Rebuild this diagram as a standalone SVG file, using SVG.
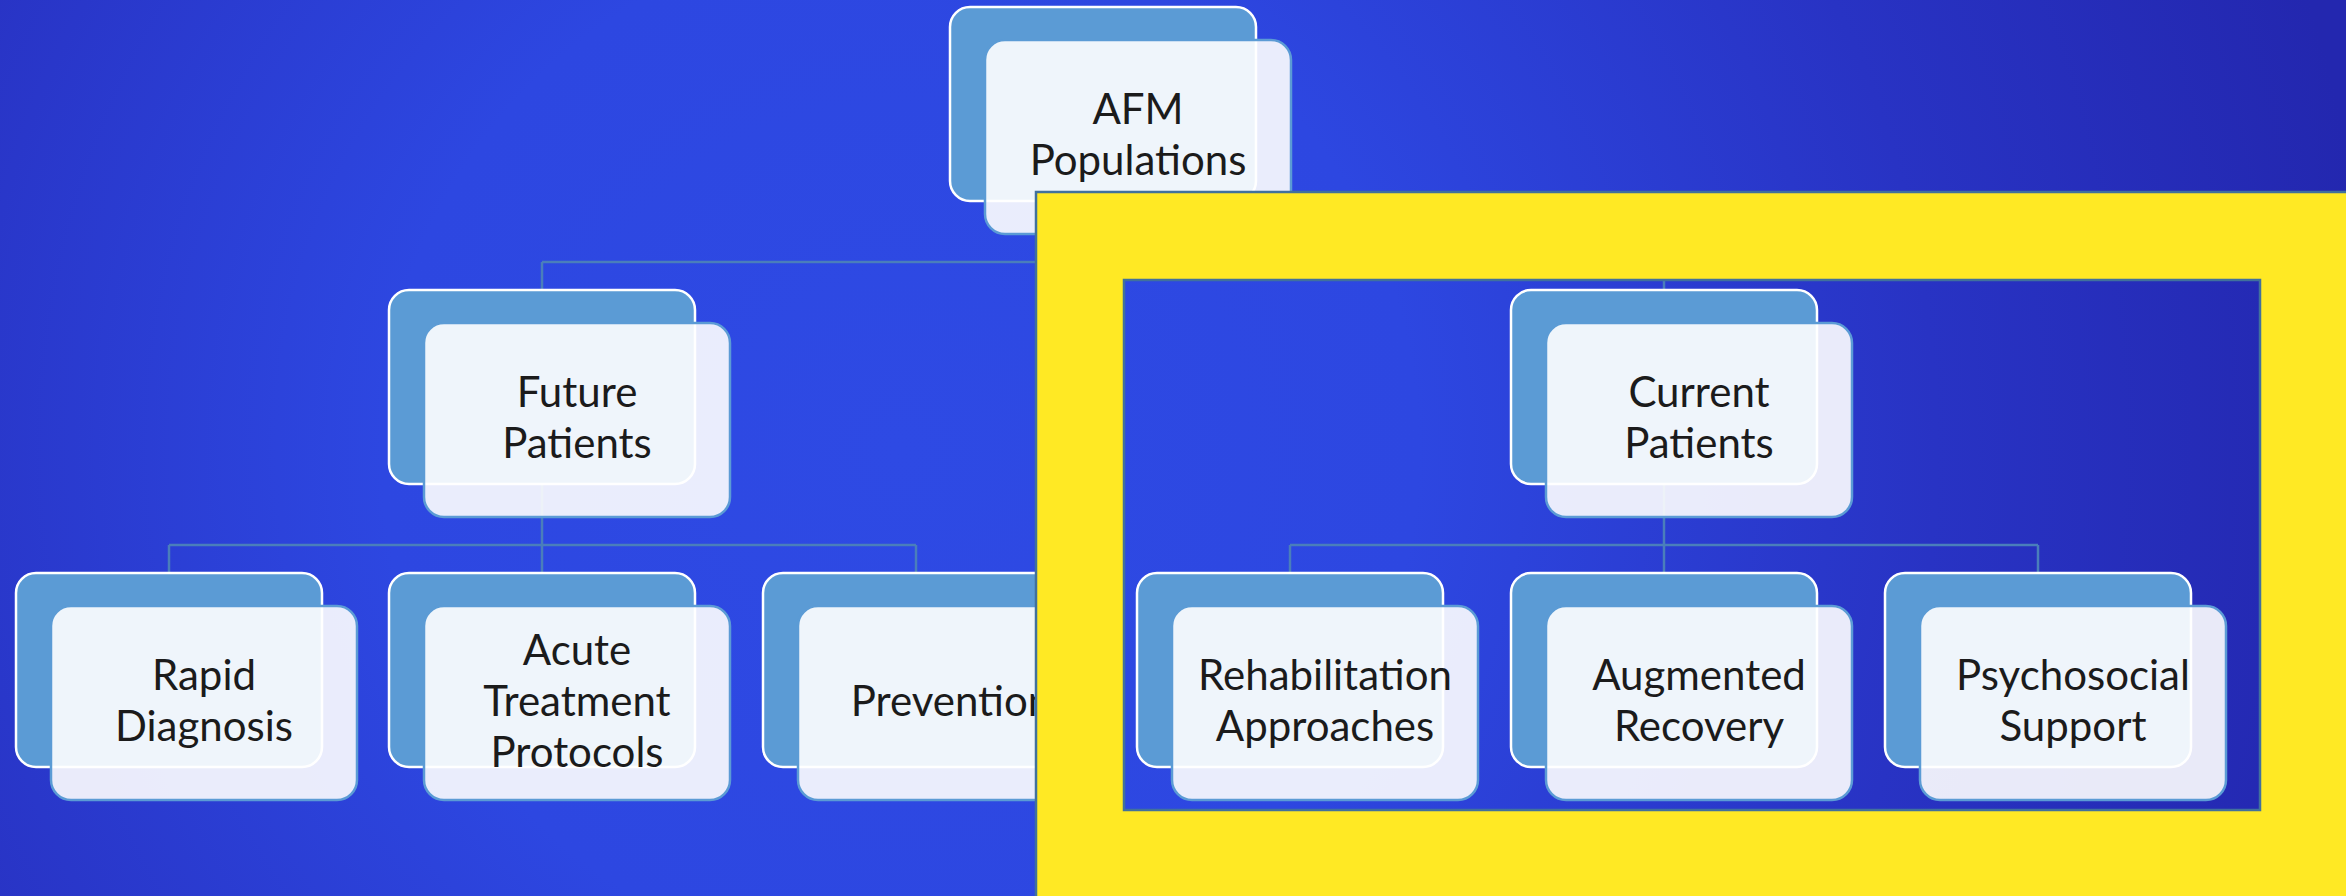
<svg xmlns="http://www.w3.org/2000/svg" width="2346" height="896" viewBox="0 0 2346 896">
  <defs>
    <radialGradient id="bg" gradientUnits="userSpaceOnUse" cx="900" cy="450" r="1480">
      <stop offset="0" stop-color="#2E4AE4"/>
      <stop offset="0.35" stop-color="#2D47E1"/>
      <stop offset="0.7" stop-color="#2833C4"/>
      <stop offset="1" stop-color="#2327AF"/>
    </radialGradient>
    <style>
      .back { fill: #5B9BD5; stroke: #FFFFFF; stroke-width: 2.5; }
      .front { fill: #FFFFFF; fill-opacity: 0.9; stroke: #5B9BD5; stroke-width: 2.5; }
      .lbl { font-family: Lato, "Open Sans", "Liberation Sans", sans-serif; font-size: 42px; fill: #1B1B1B; text-anchor: middle; }
      .conn { stroke: #4A7EBB; stroke-width: 2.5; fill: none; }
      .frame { fill: #FFE924; fill-rule: evenodd; stroke: #41719C; stroke-width: 2.5; }
    </style>
  </defs>

  <rect x="0" y="0" width="2346" height="896" fill="url(#bg)"/>

  <g id="connectors" class="conn">
    <path d="M1103 202 V262 M542 262 H1664 M542 262 V290 M1664 262 V290"/>
    <path d="M542 484 V545 M169 545 H916 M169 545 V573 M542 545 V573 M916 545 V573"/>
    <path d="M1664 484 V545 M1290 545 H2038 M1290 545 V573 M1664 545 V573 M2038 545 V573"/>
  </g>

  <g id="afm-populations">
    <rect class="back" x="950" y="7" width="306" height="194" rx="20"/>
    <rect class="front" x="985" y="40" width="306" height="194" rx="20"/>
    <text class="lbl" x="1138" y="124">AFM</text>
    <text class="lbl" x="1138" y="175">Populations</text>
  </g>

  <g id="future-patients">
    <rect class="back" x="389" y="290" width="306" height="194" rx="20"/>
    <rect class="front" x="424" y="323" width="306" height="194" rx="20"/>
    <text class="lbl" x="577" y="407">Future</text>
    <text class="lbl" x="577" y="458">Patients</text>
  </g>

  <g id="rapid-diagnosis">
    <rect class="back" x="16" y="573" width="306" height="194" rx="20"/>
    <rect class="front" x="51" y="606" width="306" height="194" rx="20"/>
    <text class="lbl" x="204" y="690">Rapid</text>
    <text class="lbl" x="204" y="741">Diagnosis</text>
  </g>

  <g id="acute-treatment">
    <rect class="back" x="389" y="573" width="306" height="194" rx="20"/>
    <rect class="front" x="424" y="606" width="306" height="194" rx="20"/>
    <text class="lbl" x="577" y="665">Acute</text>
    <text class="lbl" x="577" y="716">Treatment</text>
    <text class="lbl" x="577" y="767">Protocols</text>
  </g>

  <g id="prevention">
    <rect class="back" x="763" y="573" width="306" height="194" rx="20"/>
    <rect class="front" x="798" y="606" width="306" height="194" rx="20"/>
    <text class="lbl" x="951" y="716">Prevention</text>
  </g>

  <g id="highlight-frame">
    <path class="frame" d="M1036 192 H2360 V910 H1036 Z M1124 280 H2260 V810 H1124 Z"/>
  </g>

  <g id="current-patients">
    <rect class="back" x="1511" y="290" width="306" height="194" rx="20"/>
    <rect class="front" x="1546" y="323" width="306" height="194" rx="20"/>
    <text class="lbl" x="1699" y="407">Current</text>
    <text class="lbl" x="1699" y="458">Patients</text>
  </g>

  <g id="rehabilitation-approaches">
    <rect class="back" x="1137" y="573" width="306" height="194" rx="20"/>
    <rect class="front" x="1172" y="606" width="306" height="194" rx="20"/>
    <text class="lbl" x="1325" y="690">Rehabilitation</text>
    <text class="lbl" x="1325" y="741">Approaches</text>
  </g>

  <g id="augmented-recovery">
    <rect class="back" x="1511" y="573" width="306" height="194" rx="20"/>
    <rect class="front" x="1546" y="606" width="306" height="194" rx="20"/>
    <text class="lbl" x="1699" y="690">Augmented</text>
    <text class="lbl" x="1699" y="741">Recovery</text>
  </g>

  <g id="psychosocial-support">
    <rect class="back" x="1885" y="573" width="306" height="194" rx="20"/>
    <rect class="front" x="1920" y="606" width="306" height="194" rx="20"/>
    <text class="lbl" x="2073" y="690">Psychosocial</text>
    <text class="lbl" x="2073" y="741">Support</text>
  </g>
</svg>
